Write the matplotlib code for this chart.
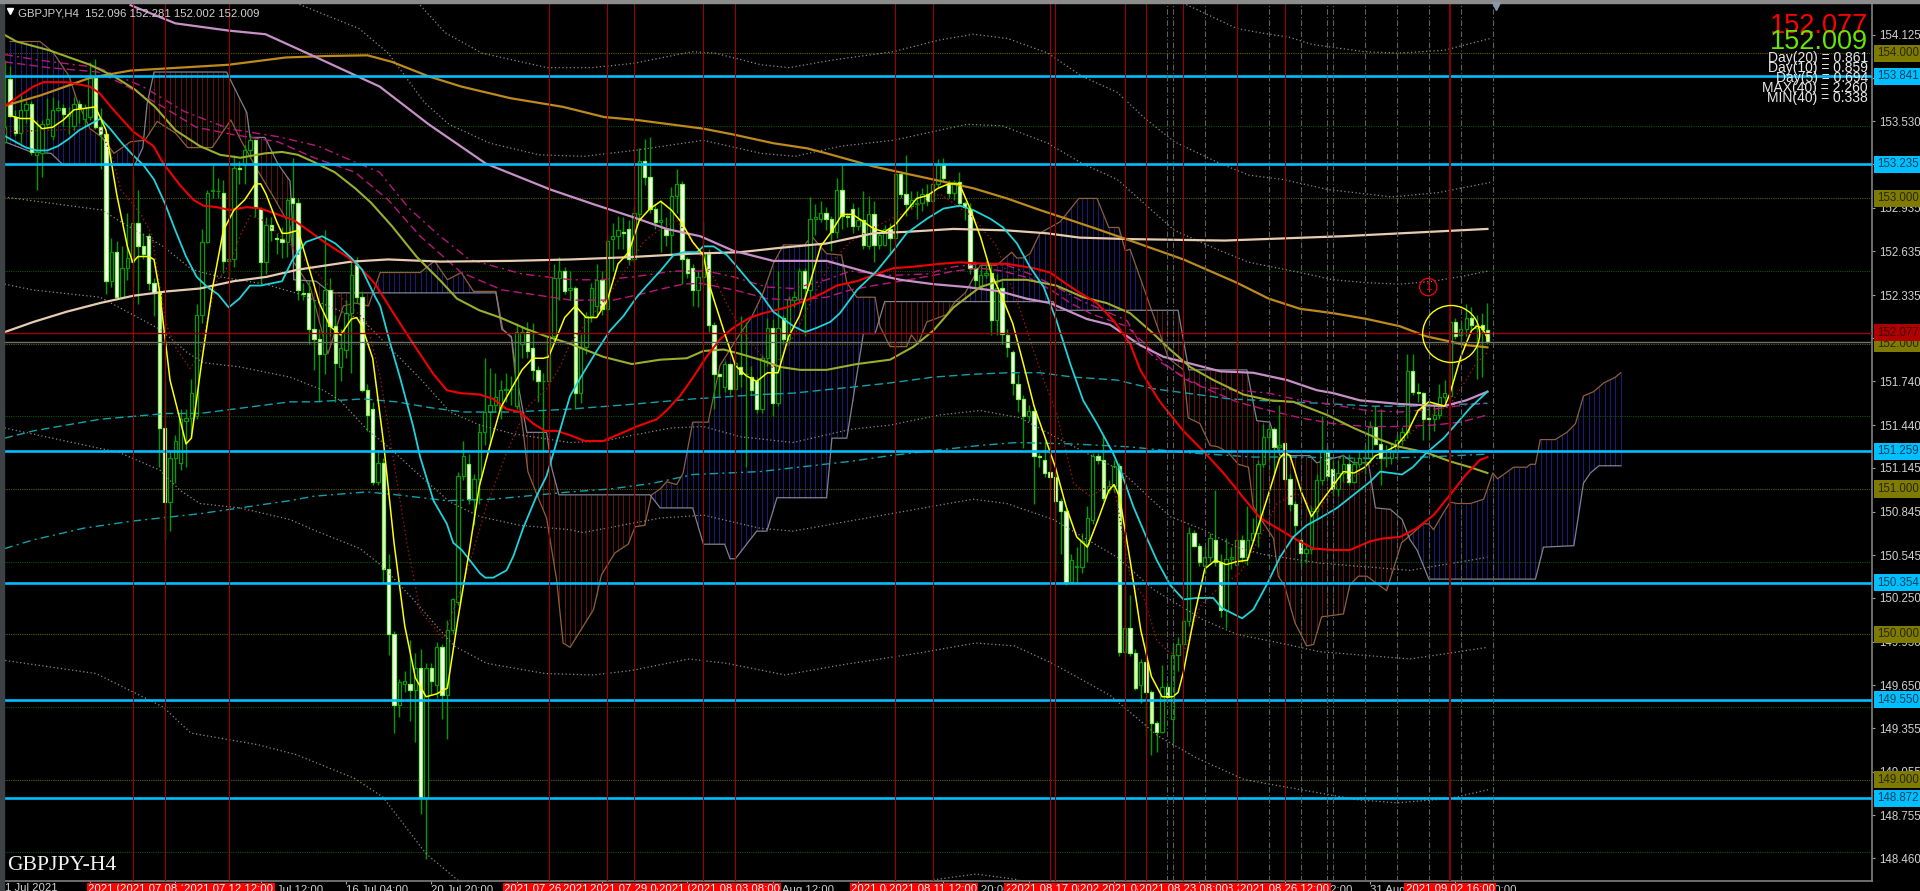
import matplotlib
matplotlib.use('Agg')
import matplotlib.pyplot as plt
from matplotlib.lines import Line2D
from matplotlib.patches import Ellipse, Rectangle
import numpy as np

# GBPJPY H4 candles, bar -1 is cut by the left edge
bar_open = [
    153.39,153.82,153.56,153.45,153.61,153.65,153.30,153.31,153.51,153.43,
    153.61,153.62,153.57,153.50,153.65,153.55,153.56,153.83,153.49,153.44,
    152.43,152.63,152.32,152.52,152.56,152.83,152.67,152.74,152.42,152.35,
    151.42,150.91,151.21,151.18,151.47,151.49,151.50,152.20,152.70,153.05,
    153.05,153.04,152.57,152.58,153.21,153.23,153.33,153.40,152.93,152.56,
    152.82,152.73,152.72,152.70,153.00,152.97,152.35,152.35,152.10,152.03,
    151.93,152.37,152.12,151.84,151.96,152.21,152.55,152.32,151.68,151.55,
    151.05,151.18,150.45,150.00,149.51,149.66,149.66,149.62,149.77,148.87,
    149.77,149.65,149.91,149.58,150.03,150.22,151.09,151.17,150.93,151.07,
    151.39,151.53,151.58,151.56,151.68,151.69,151.57,152.00,152.08,151.97,
    151.82,151.74,151.74,152.05,152.45,152.50,152.37,152.38,151.66,151.98,
    152.19,152.26,152.44,152.24,152.72,152.74,152.77,152.79,152.58,152.89,
    153.26,153.15,152.93,152.84,152.79,152.75,153.02,153.10,152.58,152.52,
    152.37,152.46,152.62,152.13,151.79,151.70,151.86,151.69,151.84,151.79,
    151.77,151.74,151.55,151.90,152.11,151.59,152.18,152.03,152.30,152.31,
    152.50,152.37,152.86,152.86,152.90,152.86,152.77,153.06,152.88,152.93,
    152.81,152.85,152.67,152.89,152.68,152.68,152.79,152.73,153.17,153.03,
    152.95,152.96,152.97,153.03,152.98,153.10,153.23,153.10,153.04,153.11,
    152.97,152.93,152.52,152.39,152.47,152.49,152.16,152.38,152.06,151.94,
    151.72,151.62,151.50,151.54,151.23,151.20,151.12,151.08,150.92,150.85,
    150.36,150.46,150.46,150.62,150.79,151.23,151.20,150.99,151.02,151.16,
    149.88,150.04,149.87,149.65,149.81,149.60,149.39,149.33,149.64,149.42,
    149.86,149.93,150.09,150.70,150.61,150.47,150.53,150.65,150.50,150.17,
    150.52,150.48,150.65,150.53,150.65,150.70,151.17,151.36,151.41,151.29,
    151.32,151.07,150.90,150.65,150.56,150.59,150.85,151.06,151.26,151.14,
    151.00,151.11,151.17,151.05,151.17,151.21,151.21,151.43,151.31,151.21,
    151.21,151.26,151.34,151.39,151.81,151.67,151.66,151.49,151.48,151.51,
    151.63,151.64,152.15,152.06,152.10,152.18,152.11,152.13,152.096]
bar_high = [
    153.95,153.91,153.61,153.72,153.67,153.67,153.54,153.54,153.69,153.70,
    153.68,153.65,153.63,153.70,153.68,153.65,153.94,153.96,153.62,153.46,
    152.73,152.71,152.67,152.90,153.16,153.06,152.76,152.76,152.45,152.36,
    151.74,151.27,151.37,151.55,151.55,151.76,152.27,152.79,153.06,153.23,
    153.14,153.13,153.22,153.30,153.26,153.37,153.44,153.41,152.94,152.87,
    152.87,152.76,152.80,153.00,153.28,153.00,152.42,152.43,152.30,152.10,
    152.78,152.45,152.20,152.10,152.30,152.56,152.60,152.36,151.72,151.60,
    151.27,151.21,150.55,150.02,149.69,149.75,149.96,149.87,149.90,149.80,
    149.80,149.95,149.93,150.10,150.25,151.12,151.33,151.24,151.10,151.45,
    151.90,151.83,151.80,151.75,151.80,151.78,152.14,152.12,152.15,152.14,
    151.85,151.80,152.23,152.55,152.60,152.53,152.50,152.40,152.07,152.22,
    152.42,152.55,152.50,152.75,152.83,152.88,152.87,152.85,152.95,153.35,
    153.41,153.42,152.96,152.99,152.87,153.08,153.20,153.12,152.60,152.55,
    152.50,152.84,152.65,152.15,151.80,151.88,151.87,151.95,152.19,152.15,
    151.85,151.77,151.92,152.18,152.17,152.50,152.20,152.33,152.36,152.52,
    152.52,153.01,152.96,152.98,152.94,152.88,153.14,153.23,152.90,152.97,
    152.94,153.05,153.02,152.98,152.77,152.82,152.83,153.20,153.19,153.30,
    153.05,153.05,153.07,153.10,153.15,153.27,153.28,153.13,153.13,153.18,
    152.98,152.97,152.57,152.55,152.57,152.55,152.48,152.43,152.10,151.96,
    151.79,151.65,151.58,151.56,151.25,151.33,151.23,151.10,150.94,150.87,
    150.55,150.60,150.70,150.88,151.25,151.25,151.38,151.06,151.20,151.18,
    150.33,150.27,149.90,149.83,149.95,149.62,149.40,149.79,149.67,149.93,
    149.98,150.11,150.74,150.72,150.63,150.60,150.70,150.99,150.55,150.66,
    150.60,150.72,150.68,150.88,150.80,151.20,151.45,151.45,151.43,151.58,
    151.43,151.10,150.92,150.67,150.62,150.88,151.10,151.50,151.30,151.20,
    151.20,151.24,151.24,151.22,151.26,151.30,151.47,151.57,151.55,151.30,
    151.32,151.38,151.43,151.93,151.93,151.73,151.67,151.60,151.60,151.72,
    151.75,152.16,152.18,152.15,152.27,152.25,152.20,152.21,152.281]
bar_low = [
    153.38,153.56,153.43,153.38,153.52,153.30,153.06,153.15,153.50,153.40,
    153.60,153.50,153.44,153.47,153.52,153.49,153.54,153.48,153.20,152.34,
    152.39,152.31,152.31,152.44,152.39,152.27,152.58,152.37,152.19,151.15,
    150.65,150.71,151.04,151.13,151.15,151.36,151.48,152.14,152.69,153.00,
    153.00,152.49,152.45,152.53,153.10,153.10,153.28,152.87,152.41,152.48,
    152.71,152.62,152.59,152.60,152.68,152.30,152.30,152.00,151.82,151.60,
    151.79,152.05,151.60,151.74,151.90,151.80,152.28,151.67,151.40,151.03,
    151.03,150.35,149.86,149.32,149.43,149.60,149.40,149.26,148.76,148.45,
    149.58,149.56,149.42,149.28,150.00,150.20,151.06,150.90,150.75,150.90,
    151.30,151.30,151.53,151.48,151.60,151.58,151.55,151.90,151.90,151.75,
    151.60,151.26,151.70,152.00,152.30,152.34,152.30,151.55,151.59,151.93,
    152.15,152.20,152.20,152.16,152.50,152.65,152.65,152.54,152.56,152.85,
    153.09,152.90,152.79,152.63,152.67,152.62,152.90,152.41,152.45,152.26,
    152.25,152.40,152.08,151.55,151.64,151.67,151.65,151.50,151.70,151.15,
    151.65,151.52,151.52,151.85,151.50,151.57,152.00,152.00,152.25,152.28,
    152.05,152.30,152.75,152.84,152.78,152.64,152.73,152.79,152.80,152.76,
    152.78,152.65,152.65,152.56,152.65,152.67,152.62,152.69,153.00,152.88,
    152.93,152.86,152.91,152.95,152.87,153.08,153.12,153.00,152.99,152.95,
    152.85,152.48,152.38,152.37,152.45,152.06,152.06,152.00,151.91,151.65,
    151.53,151.28,151.47,150.90,151.15,151.08,151.00,150.43,150.55,150.34,
    150.35,150.35,150.42,150.50,150.76,151.17,150.92,150.97,150.98,149.85,
    149.85,149.85,149.62,149.53,149.30,149.17,149.19,149.32,149.55,149.25,
    149.75,149.90,150.06,150.60,150.47,150.42,150.50,150.47,150.12,150.04,
    150.45,150.44,150.50,150.48,150.65,150.60,151.15,151.20,151.10,151.25,
    151.02,150.85,150.68,150.46,150.49,150.55,150.80,151.03,151.07,150.95,
    150.95,151.05,151.03,151.04,151.15,151.10,151.18,151.30,151.03,151.15,
    151.17,151.20,151.30,151.35,151.65,151.60,151.34,151.34,151.40,151.48,
    151.60,151.62,152.03,152.00,152.05,152.10,151.76,151.77,152.002]
bar_close = [
    153.49,153.57,153.45,153.61,153.65,153.32,153.32,153.51,153.55,153.61,
    153.62,153.58,153.58,153.65,153.62,153.62,153.83,153.49,153.44,152.43,
    152.63,152.32,152.52,152.59,152.83,152.67,152.62,152.42,152.35,151.42,
    150.91,151.21,151.33,151.48,151.49,151.66,152.20,152.70,153.04,153.06,
    153.05,152.57,152.58,153.21,153.20,153.33,153.40,152.94,152.56,152.82,
    152.78,152.72,152.70,152.99,152.97,152.37,152.34,152.10,152.03,151.93,
    152.37,152.12,151.87,151.97,152.21,152.47,152.32,151.68,151.51,151.05,
    151.18,150.45,150.00,149.51,149.67,149.68,149.62,149.77,148.87,149.77,
    149.68,149.91,149.58,150.03,150.24,151.09,151.23,150.93,151.07,151.39,
    151.53,151.58,151.63,151.68,151.69,151.69,152.08,152.08,151.95,151.82,
    151.74,151.74,152.05,152.45,152.50,152.36,152.38,151.66,151.98,152.19,
    152.38,152.44,152.24,152.71,152.74,152.78,152.76,152.58,152.90,153.26,
    153.15,152.93,152.84,152.85,152.75,153.02,153.10,152.58,152.49,152.37,
    152.46,152.63,152.13,151.79,151.78,151.86,151.69,151.87,151.79,151.79,
    151.68,151.55,151.90,152.11,151.59,152.11,152.03,152.31,152.32,152.50,
    152.38,152.86,152.87,152.90,152.86,152.77,153.06,152.88,152.87,152.81,
    152.85,152.68,152.89,152.68,152.75,152.79,152.73,153.17,153.03,152.96,
    152.99,152.97,153.03,152.98,153.10,153.23,153.14,153.04,153.11,152.97,
    152.94,152.52,152.44,152.47,152.49,152.16,152.38,152.07,151.98,151.73,
    151.62,151.50,151.54,151.23,151.22,151.11,151.08,150.92,150.85,150.36,
    150.51,150.47,150.64,150.80,151.23,151.20,150.94,151.02,151.16,149.88,
    150.04,149.87,149.63,149.81,149.60,149.39,149.33,149.64,149.57,149.86,
    149.93,150.09,150.70,150.61,150.50,150.53,150.66,150.50,150.17,150.52,
    150.53,150.65,150.53,150.65,150.70,151.17,151.36,151.41,151.29,151.30,
    151.07,150.90,150.75,150.56,150.59,150.85,151.06,151.26,151.09,151.00,
    151.11,151.17,151.05,151.17,151.21,151.22,151.43,151.31,151.21,151.22,
    151.26,151.34,151.39,151.81,151.67,151.66,151.48,151.48,151.51,151.63,
    151.66,152.15,152.05,152.10,152.18,152.13,152.13,152.10,152.009]

# moving averages, (bar, price)
yellow_x = [0,2,4,6,8,10,12,14,16,18,20,22,23,24,26,27,28,30,32,33,34,36,38,40,42,44,46,47,48,50,51,52,54,56,
    58,60,62,64,65,66,68,70,72,74,76,78,80,82,84,86,88,90,92,94,96,98,100,101,102,104,
    106,108,110,112,114,116,118,120,122,124,126,128,130,131,132,134,136,138,140,142,144,146,148,150,152,154,156,
    158,160,162,164,166,168,170,172,174,176,178,180,182,184,186,188,190,192,194,196,198,200,202,204,206,207,208,
    210,212,214,216,218,219,220,222,224,226,228,230,232,234,236,238,239,240,242,244,246,248,250,252,254,256,258,260,262,
    264,266,268,269,270,272,274,275,276,277]
yellow_y = [153.57,153.55,153.55,153.48,153.49,153.54,153.61,153.62,153.63,153.47,153.03,152.67,152.56,152.60,152.60,152.58,152.37,151.75,151.46,151.31,151.35,151.89,152.39,152.78,152.92,152.99,153.10,153.10,153.03,152.84,152.76,152.76,152.78,152.53,
    152.28,152.12,152.06,152.17,152.18,152.12,151.90,151.33,150.63,150.06,149.70,149.57,149.59,149.63,150.11,150.55,151.02,151.30,151.56,151.69,151.82,151.90,151.90,151.91,152.00,152.18,
    152.26,152.18,152.18,152.30,152.55,152.63,152.85,152.93,152.98,152.92,152.83,152.70,152.61,152.42,152.30,152.07,151.85,151.78,151.74,151.80,151.80,152.05,152.19,152.42,152.67,152.77,152.89,
    152.89,152.84,152.79,152.77,152.82,152.91,153.00,153.02,153.07,153.10,153.10,152.93,152.73,152.48,152.32,152.14,151.86,151.57,151.36,151.15,150.88,150.67,150.60,150.79,150.99,151.03,150.95,
    150.51,150.03,149.71,149.57,149.57,149.60,149.74,150.12,150.45,150.51,150.48,150.50,150.51,150.74,150.97,151.21,151.25,151.23,150.99,150.81,150.92,151.02,151.12,151.11,151.15,151.23,151.26,151.30,151.39,
    151.54,151.60,151.58,151.57,151.66,151.91,152.09,152.12,152.11,152.04]

cyan_x = [-1,1,3,5,7,9,11,13,15,17,19,21,23,25,27,29,31,33,35,37,39,41,43,45,47,51,53,55.5,58.5,61,64,66,68.5,
    69.4,71.3,73.1,75.6,76.9,79.4,81.9,83.1,84.7,86.2,88.1,89.1,90.6,93.1,94.4,96.2,98.7,100.6,101.9,103.8,105,
    107.5,110,112.5,115,117.5,119.4,121.9,124.4,126.3,128.8,130,131.9,134.4,136.3,138.8,140.6,143.1,146.9,149.1,151.3,153.8,155.6,
    158.8,162.5,165.6,168.1,171.9,175,178.1,180.6,183.8,186.2,188.8,191.2,193.8,196.2,198.8,201.2,203.8,206.9,208.4,
    210.6,212.8,215,217.5,220,222.5,225.6,227.2,229.4,231,233.1,235.6,238.1,240.6,243.1,245.6,248.8,251.9,255,256.9,261,263,265.6,268.8,271.2,273.8,277]
cyan_y = [153.43,153.39,153.35,153.33,153.33,153.36,153.41,153.47,153.51,153.55,153.47,153.38,153.30,153.23,153.13,152.97,152.78,152.60,152.46,152.39,152.34,152.25,152.31,152.40,152.40,152.43,152.58,152.70,152.74,152.69,152.59,152.51,152.32,
    152.26,152.00,151.77,151.43,151.22,150.92,150.76,150.63,150.58,150.51,150.42,150.39,150.39,150.44,150.54,150.73,150.95,151.09,151.25,151.49,151.64,
    151.80,151.95,152.09,152.19,152.32,152.40,152.50,152.61,152.63,152.63,152.67,152.67,152.61,152.53,152.42,152.35,152.22,152.12,152.08,152.11,152.15,152.21,
    152.37,152.50,152.64,152.76,152.86,152.93,152.95,152.92,152.86,152.80,152.69,152.53,152.39,152.16,151.86,151.61,151.45,151.24,151.11,
    150.88,150.69,150.51,150.34,150.24,150.25,150.25,150.18,150.14,150.11,150.17,150.34,150.53,150.67,150.75,150.80,150.87,150.96,151.05,151.12,151.10,151.15,151.25,151.35,151.45,151.56,151.67]

red_x = [-0.75,1.9,4.4,6.3,10.6,15,16.9,19.4,23.1,26.9,28.75,31.9,34.4,36.25,38.75,41.25,44.4,47,50.2,53.2,56.3,59.3,63.2,65.5,68.5,
    71.9,75.6,79.4,81.9,84.4,88.1,90.6,93.1,95.6,98.1,100.3,102.5,105,107.8,111.2,113.75,117.5,121.25,123.1,125.6,128.1,130.6,133.1,135.6,138.75,141.25,145.6,149.4,152.5,155,158.75,
    162.5,165.6,169.4,174.4,178.1,183.1,186.9,191.9,195,198.1,200.6,203.75,206.9,210,211.9,215.6,220,223.75,227.5,231.25,234.4,238.1,241.25,244.4,248.1,251.25,255,257.5,260.6,263.75,266.9,270,273,275.6,277]
red_y = [153.64,153.71,153.77,153.80,153.80,153.77,153.72,153.61,153.46,153.36,153.24,153.09,152.99,152.95,152.94,152.92,152.94,152.93,152.89,152.85,152.77,152.69,152.60,152.53,152.41,
    152.21,152.00,151.79,151.68,151.66,151.65,151.62,151.55,151.53,151.45,151.40,151.40,151.37,151.33,151.33,151.37,151.43,151.48,151.54,151.64,151.77,151.91,152.03,152.11,152.18,152.21,152.25,152.30,152.35,152.40,152.43,
    152.48,152.52,152.53,152.55,152.56,152.55,152.55,152.52,152.49,152.41,152.35,152.28,152.16,152.00,151.82,151.60,151.40,151.26,151.11,150.94,150.80,150.72,150.65,150.59,150.58,150.58,150.64,150.66,150.67,150.73,150.82,150.96,151.10,151.20,151.22]

olive_x = [-1,1.2,7.3,15,19.5,23.4,27.2,31,35.6,39.4,43.2,47.8,51,54,57,60.9,64.7,67.7,71.6,76.2,80.8,83.8,88,91.9,96.9,100.6,105,
    111.2,116.6,121.9,126.9,130,133.8,136.9,140.6,144.4,148.1,153.1,158.75,165,169.4,173.1,176.9,181.9,186.2,190.6,196.2,201.2,205.6,210,
    213.75,217.5,221.25,225.6,231.25,236.25,240.6,246.9,251.9,256.9,260.6,265.6,270,273.75,277]
olive_y = [154.125,154.08,154.02,153.92,153.84,153.75,153.63,153.47,153.36,153.30,153.28,153.31,153.32,153.30,153.25,153.18,153.07,152.97,152.81,152.60,152.43,152.31,152.23,152.18,152.10,152.05,152.00,
    151.91,151.86,151.89,151.90,151.95,151.96,151.93,151.89,151.84,151.82,151.82,151.86,151.89,151.98,152.09,152.25,152.39,152.44,152.44,152.40,152.32,152.28,152.21,
    152.09,151.96,151.84,151.75,151.65,151.61,151.60,151.51,151.42,151.34,151.29,151.25,151.19,151.15,151.11]

plum_x = [22.6,31,41,47.9,56.3,69.3,78.5,89.2,101.4,109.4,116.9,123.1,129.4,135.6,143.1,153.1,161.9,166.9,173.1,179.4,185.6,190.6,195,201.9,206.25,211.9,216.25,220.6,226.9,233.1,239.4,245,248.1,253.1,260.6,268.75,273,277]
plum_y = [154.33,154.205,154.155,154.13,153.99,153.77,153.51,153.24,153.06,152.96,152.87,152.79,152.74,152.64,152.57,152.57,152.48,152.44,152.41,152.39,152.36,152.31,152.28,152.17,152.13,151.99,151.91,151.87,151.81,151.80,151.75,151.68,151.66,151.61,151.585,151.57,151.61,151.67]

orange_x = [-0.75,5.8,15,22.6,31.8,41,51.7,59.3,67,71.6,78.5,84.6,93.8,103.7,111.4,117.5,130,135.6,143.1,149.4,153.1,161.9,168.1,174.4,180.6,186.9,193.1,198.1,203.75,210,220,230,236,241.9,248.1,254.4,260.6,265.6,269.4,273.1,277]
orange_y = [153.64,153.71,153.83,153.88,153.90,153.92,153.97,153.98,153.985,153.94,153.84,153.77,153.69,153.63,153.56,153.54,153.48,153.44,153.38,153.345,153.31,153.22,153.17,153.12,153.07,153.00,152.92,152.86,152.79,152.71,152.58,152.42,152.31,152.24,152.21,152.17,152.12,152.05,152.02,151.99,151.975]

bisque_x = [-1,4.4,10.6,16.9,23.1,29.4,35.6,41.9,48.1,54,64,70.9,80.8,93.8,105.2,115.6,128.1,136.9,144.4,153.1,161.9,168.1,176.9,186.9,194.4,200.6,210,227.7,250,277]
bisque_y = [152.08,152.15,152.22,152.28,152.33,152.36,152.38,152.43,152.46,152.51,152.565,152.58,152.565,152.57,152.58,152.595,152.62,152.63,152.66,152.69,152.76,152.77,152.79,152.78,152.76,152.73,152.72,152.71,152.74,152.79]

# two magenta lines, one dash-dot and one dashed
magenta1_x = [-1,5.8,16.5,24.9,32.6,41,50.2,57.8,64.7,69.3,74.6,80,86.1,96,105.2,110.6,116.9,124.4,130.7,135.6,141.9,146.9,153.1,157.5,165,171.9,176.9,181.9,186.9,191.25,196.25,200.6,205,209.4,211.9,215,218.75,223.75,230,236,241.9,248.1,254.4,260.6,266.9,273.1,277]
magenta1_y = [153.99,153.95,153.90,153.77,153.60,153.48,153.425,153.36,153.25,153.18,152.94,152.76,152.58,152.48,152.44,152.44,152.46,152.50,152.50,152.46,152.39,152.38,152.44,152.50,152.47,152.48,152.53,152.55,152.54,152.48,152.39,152.30,152.23,152.16,152.00,151.89,151.80,151.70,151.68,151.66,151.61,151.58,151.54,151.53,151.55,151.58,151.59]
magenta2_x = [-1,7.3,16.5,21,28.7,34.9,41.7,50.2,57,64.7,70.9,76.9,84.6,92.3,105.2,113.1,118.1,121.9,126.25,129.4,133.1,136.9,141.9,146.9,153.1,157.5,161.9,166.9,173.1,176.9,181.9,186.2,191.25,195.6,198.75,203.1,209.4,216.9,220.6,225.6,230,235,241.9,248.1,254.4,260.6,266.9,272,277]
magenta2_y = [153.94,153.90,153.87,153.79,153.63,153.49,153.44,153.39,153.28,153.18,152.99,152.74,152.49,152.37,152.30,152.30,152.34,152.375,152.41,152.416,152.39,152.36,152.31,152.30,152.32,152.37,152.40,152.43,152.47,152.50,152.52,152.50,152.45,152.36,152.28,152.20,152.12,151.85,151.75,151.67,151.60,151.55,151.49,151.45,151.43,151.43,151.44,151.46,151.51]

teal1_x = [-1,4.4,10.6,16.9,23.1,29.4,35.6,41.9,52.5,56.9,66.25,72.5,78.75,85,94.4,105,115.6,128.1,140.6,146.9,157.5,165,173.1,180.6,186.9,193.1,199.4,207.5,214.4,220.6,228.75,239.4,245.6,255.6,262.5,277]
teal1_y = [151.35,151.40,151.44,151.48,151.50,151.52,151.52,151.55,151.60,151.60,151.62,151.60,151.56,151.53,151.53,151.55,151.58,151.62,151.65,151.66,151.70,151.73,151.77,151.79,151.80,151.80,151.77,151.75,151.69,151.66,151.62,151.60,151.59,151.57,151.57,151.59]
teal2_x = [-1,4.4,13.75,23.1,35.6,52.5,56.9,66.9,72.5,81.9,90.6,105,112.5,120.6,128.1,140.6,157.5,165,174.4,181.9,188.75,199.4,210,220.6,233,241.9,254.4,265.6,277]
teal2_y = [150.59,150.65,150.73,150.78,150.83,150.92,150.95,150.98,150.96,150.92,150.93,150.98,151.00,151.04,151.10,151.12,151.19,151.23,151.27,151.30,151.32,151.31,151.29,151.25,151.22,151.22,151.21,151.22,151.24]

# dark red dotted line
dotred_x = [-0.75,16.9,19.4,20.75,24.4,26.6,28.1,29.4,31.25,33.75,35.6,37.2,38.75,41.25,43.1,45,47.5,52,60,66.9,69.4,71.9,74.4,76.9,81.25,85.6,89.4,93.1,96.9,100.6,103.1,105,112.5,116.25,118.75,121.25,125,128.1,131.9,135,138.1,140.6,143.1,146.9,150.6,153.75,157.5,161.9,168.1,174.4,180.6,185,189.4,193.1,196.25,199.4,202.5,206.9,210,212.5,215,217.5,220,223.1,226.9,230.6,234.4,237.5,241.25,245,248.75,253.1,258.1,260.6,263,266.9,270,273,275,277]
dotred_y = [153.46,153.48,153.26,153.06,152.90,152.75,152.39,152.12,151.96,151.83,151.93,152.19,152.43,152.55,152.74,152.88,152.85,152.70,152.39,152.15,151.77,151.20,150.63,150.16,149.97,150.42,150.89,151.25,151.56,151.69,151.84,152.00,152.35,152.55,152.70,152.77,152.85,152.69,152.46,152.23,152.05,151.93,151.83,152.05,152.32,152.55,152.70,152.80,152.91,153.03,152.87,152.67,152.23,151.82,151.52,151.04,150.95,151.04,150.40,150.26,149.96,149.87,149.87,150.19,150.33,150.42,150.67,150.90,150.97,150.84,151.02,151.11,151.21,151.29,151.40,151.52,151.58,151.75,151.87,151.94]

# dotted grey bands
band0_x = [219.9,230,234.4,239.8,244.1,253.8,260.3,268.9,277.5]
band0_y = [154.345,154.17,154.14,154.11,154.06,154.01,154.00,154.02,154.10]
band1_x = [76.9,81.6,88.5,100.7,109.1,117,127.9,132.2,140.8,146.1,153.8,165.6,174.2,180.6,187.1,194.6,201,207.6,212.8,218.3,226.9,232.3,238.7,247.3,259.1,267.8,277.5]
band1_y = [154.33,154.14,154.00,153.90,153.90,153.93,154.01,154.00,153.92,153.90,153.95,154.01,154.09,154.13,154.10,154.00,153.84,153.73,153.55,153.39,153.24,153.16,153.13,153.06,153.01,153.04,153.11]
band2_x = [53.6,65.4,70.9,77.7,82.3,90,99.2,107.6,117,130,140.8,147.2,155.8,165.6,173.1,179.4,186,194.6,201,207.6,211.9,218.3,226.9,232.3,241.9,248.1,254.4,260.6,266.8,273.2,277]
band2_y = [154.345,154.17,154.00,153.66,153.51,153.38,153.30,153.29,153.33,153.40,153.31,153.29,153.36,153.40,153.46,153.51,153.50,153.38,153.24,153.13,152.99,152.78,152.64,152.56,152.49,152.44,152.42,152.41,152.43,152.47,152.50]
band3_x = [-1.1,17.25,20.25,28.7,34.1,39.4,47.8,54.4,66.2,71.8,76.9,82.5,88.1,94.3,105,111.2,123.8,130,136.9,146.8,157.5,165,174.4,181.9,189.4,196.9,208.1,217.5,223.7,230,234.9,245.6,262.5,277]
band3_y = [153.01,152.92,152.85,152.67,152.51,152.46,152.41,152.34,152.16,151.95,151.76,151.53,151.44,151.38,151.32,151.33,151.42,151.43,151.36,151.32,151.41,151.44,151.51,151.54,151.49,151.34,151.13,150.81,150.72,150.60,150.55,150.49,150.44,150.53]
band4_x = [-1,4.3,16.9,23,28.1,33.2,36.2,43.1,52.5,58.7,61.9,66.9,71.25,76.9,82.5,88.1,95.6,105,107.4,121.9,130,140.6,146.8,157.5,174.4,180.6,186.9,195.6,207.6,214.3,223.7,230,239.4,245.6,262.5,277]
band4_y = [152.41,152.37,152.32,152.20,152.10,151.94,151.87,151.84,151.77,151.68,151.61,151.41,151.28,151.09,150.91,150.81,150.75,150.72,150.70,150.80,150.82,150.73,150.71,150.78,150.89,150.93,150.90,150.79,150.53,150.31,150.10,150.00,149.93,149.88,149.83,149.91]
band5_x = [-1,20.6,28.1,31.9,35.6,43.1,52.5,56.8,65.6,69.75,75.6,83.25,89.4,100.3,109.3,116.4,127.3,134.4,145.3,156,170.25,181.1,188.3,195.4,206.25,215.25,222.4,231.4,242.1,252.9,260.1,270,277.1]
band5_y = [151.42,151.25,151.13,150.99,150.90,150.87,150.79,150.72,150.59,150.47,150.24,149.92,149.80,149.73,149.72,149.75,149.83,149.80,149.72,149.79,149.87,149.94,149.92,149.80,149.58,149.30,149.15,149.00,148.93,148.86,148.84,148.87,148.93]
band6_x = [-0.9,16.1,23.25,28.7,33.9,46.5,53.8,64.5,69.9,78,84.2]
band6_y = [149.82,149.73,149.60,149.50,149.32,149.24,149.17,149.01,148.88,148.49,148.30]
band7_x = [173.1,181.1,189.2]
band7_y = [148.31,148.35,148.31]

# ichimoku spans
span_a_x = [0,2,5.6,8,11.1,12.7,15,17.25,19.5,22.6,25.3,27.6,31,33.3,37.9,41.4,43.3,46.3,49.4,52.5,53.2,56.3,59.6,62.5,64.7,67.2,69.4,76.9,79.6,82,84.6,86.9,91.1,92.4,94,94.7,96.2,97.1,98.8,100.6,102.5,103.7,105,
    109.4,110.9,113.4,115.9,117.2,119,120.3,121.9,123.1,125,126.2,128,130.9,133.1,136.9,139,141.2,143.1,145,149,150.3,153.1,155.9,156.9,158.75,162.2,163.1,165,168.1,169,170.25,171.9,175.6,177.2,179.1,181.9,185,187.8,188.75,190,191.25,193.1,194,196.9,200.4,203.8,206,207.9,209.1,210,
    217.2,220,220.9,223.1,225,226.5,228.4,230.3,232.2,233.1,234.4,236.9,237.8,239,240.9,243.1,244.4,245.9,250,251.2,252.8,254.4,258.1,260.9,262.5,265,266,266.9,268.8,270,271.3,273.8,276.3,278,278.9,281.9,284.4,285,286,286.9,289.7,291.9,293.5,295,296.9,298.8,301,302]
span_a_y = [154.08,154.08,154.08,154.01,153.84,153.66,153.48,153.42,153.31,153.39,153.40,153.53,153.45,153.35,153.35,153.54,153.40,153.20,153.01,152.81,152.56,152.39,151.93,152.26,152.28,152.26,152.49,152.49,152.57,152.44,152.49,152.36,152.36,152.10,152.04,151.79,151.40,151.12,150.96,150.80,150.37,149.94,149.91,
    150.17,150.41,150.56,150.62,150.74,150.75,150.96,151.00,151.05,151.03,151.11,151.46,151.46,151.85,152.07,152.18,152.35,152.55,152.68,152.68,152.74,152.62,152.61,152.42,152.32,152.32,152.12,151.98,151.98,152.06,152.00,152.15,152.20,152.29,152.35,152.54,152.54,152.63,152.59,152.59,152.62,152.76,152.78,152.84,153.00,153.00,152.80,152.80,152.64,152.65,
    151.90,151.82,151.49,151.45,151.30,151.29,151.25,151.17,151.15,150.88,150.80,150.66,150.40,150.33,150.08,149.92,149.93,150.12,150.14,150.34,150.40,150.40,150.30,150.63,150.68,150.76,150.76,150.72,150.84,150.91,150.90,150.90,150.93,151.11,151.07,151.15,151.15,151.17,151.17,151.34,151.34,151.39,151.45,151.64,151.67,151.73,151.77,151.80]
span_b_x = [-1,3.9,7.7,10,23.4,24.9,25.7,27,40.6,42.9,44.4,45,47.8,50.2,52.5,52.9,53.2,57.4,60.1,91.1,92.2,94,95,96.9,100.6,101.6,102.9,120,121.9,128,130,134,135,136,140,141.9,143.8,153.1,154.1,156.9,160,162.2,164,195.6,196.2,219,221,231.9,233.75,236.2,238.1,243.7,245,250,251.9,254.7,256,258.8,261,262.5,263.8,266,286,287.5,293.2,295,296.3,297.9,302]
span_b_y = [153.39,153.32,153.31,153.23,153.23,153.35,153.65,153.87,153.87,153.70,153.59,153.42,153.42,153.24,153.12,152.87,152.44,152.43,152.35,152.35,152.10,152.05,151.77,151.39,151.39,151.14,150.96,150.96,150.87,150.87,150.62,150.62,150.52,150.52,150.71,150.71,150.94,150.94,151.35,151.35,152.07,152.07,152.29,152.29,152.23,152.23,151.82,151.82,151.47,151.46,151.23,151.23,151.18,151.23,151.18,151.18,150.87,150.86,150.79,150.65,150.58,150.38,150.38,150.60,150.61,151.04,151.11,151.16,151.16]

# horizontal levels
cyan_levels = [153.841, 153.235, 151.259, 150.354, 149.550, 148.872]
olive_levels = [154.0, 153.0, 152.0, 151.0, 150.0, 149.0]
green_levels = [153.5, 152.5, 151.5, 150.5, 149.5, 148.5]
ask_level = 152.077
bid_level = 152.009

# vertical markers on bar numbers
red_bars = [23,29,41,101,112,117,130,136,166,173,195,196,209,213,220,230,239,270]
grey_bars = [217,218,224,236,242,247,248,254,260,266,272,278]
red_bar_order = [23,29,41,101,112,117,130,136,166,173,195,196,209,213,230,220,239,270]
red_stamps = {23:'2021.07.07 12:00',29:'2021.07.08 12:00',41:'2021.07.12 12:00',101:'2021.07.26 12:00',
    112:'2021.07.28 08:00',117:'2021.07.29 04:00',130:'2021.08.02 04:00',136:'2021.08.03 08:00',
    166:'2021.08.09 12:00',173:'2021.08.11 12:00',195:'2021.08.17 04:00',196:'2021.08.17 08:00',
    209:'2021.08.20 00:00',213:'2021.08.20 16:00',220:'2021.08.23 08:00',230:'2021.08.25 00:00',
    239:'2021.08.26 12:00',270:'2021.09.02 16:00'}

time_bars = [15,31,47,63,79,95,111,127,143,159,175,191,207,223,239,255,271]
time_labels = ['6 Jul 04:00','8 Jul 20:00','13 Jul 12:00','16 Jul 04:00','20 Jul 20:00','23 Jul 12:00','28 Jul 04:00',
    '30 Jul 20:00','4 Aug 12:00','9 Aug 04:00','11 Aug 20:00','16 Aug 12:00','19 Aug 04:00','23 Aug 20:00',
    '26 Aug 12:00','31 Aug 04:00','2 Sep 20:00']

price_ticks = [154.125,153.830,153.530,153.235,152.935,152.635,152.335,152.040,151.740,151.440,151.145,150.845,150.545,150.250,149.950,149.650,149.355,149.055,148.755,148.460]

stats = ['Day(20) = 0.861','Day(10) = 0.859','Day(5) = 0.694','MAX(40) = 2.260','MIN(40) = 0.338']

narrow = ['Liberation Sans Narrow','Liberation Sans']
plt.rcParams['font.family'] = ['Liberation Sans']

fig = plt.figure(figsize=(19.2,8.91), dpi=100, facecolor='black')
ax = fig.add_axes([4/1920, 10/891, 1868/1920, 878/891], facecolor='black')
ax.set_xlim(-1.125, 349.1)
ax.set_ylim(148.302, 154.345)

for s in ax.spines.values():
    s.set_color('#808080')
    s.set_linewidth(1.2)
fig.add_artist(Rectangle((0,0), 4/1920, 1, transform=fig.transFigure, color='#3c4246'))
fig.add_artist(Rectangle((0,1-3/891), 1, 3/891, transform=fig.transFigure, color='#8c8c8c'))

bars = np.arange(-1, 278)
o = np.array(bar_open)
h = np.array(bar_high)
l = np.array(bar_low)
c = np.array(bar_close)

# cloud hatch, one stroke per bar between the spans
cloud_bars = np.arange(0, 303)
a_line = np.interp(cloud_bars, span_a_x, span_a_y)
b_line = np.interp(cloud_bars, span_b_x, span_b_y)
ax.vlines(cloud_bars[a_line>=b_line], a_line[a_line>=b_line], b_line[a_line>=b_line], color='#1b1b72', lw=0.8, zorder=1)
ax.vlines(cloud_bars[a_line<b_line], a_line[a_line<b_line], b_line[a_line<b_line], color='#571414', lw=0.8, zorder=1)
ax.plot(span_a_x, span_a_y, color='#8f5f3c', lw=0.9, zorder=1.5)
ax.plot(span_b_x, span_b_y, color='#80808f', lw=0.9, zorder=1.5)

# levels under the candles
for v in olive_levels:
    ax.axhline(v, color='#5c5c00', lw=0.8, ls=(0,(1,1)), zorder=1.2)
for v in green_levels:
    ax.axhline(v, color='#0c520c', lw=0.8, ls=(0,(1,1)), zorder=1.2)

# candles
ax.vlines(bars, l, h, color='#049a04', lw=1.0, zorder=2)
up = c >= o
ax.bar(bars[up], (c-o)[up], bottom=o[up], width=0.6, facecolor='black', edgecolor='#049a04', lw=0.9, zorder=2.2)
ax.bar(bars[~up], (c-o)[~up], bottom=o[~up], width=0.6, facecolor='white', edgecolor='#7cfc3c', lw=0.9, zorder=2.2)

# bands
for bx, by in [(band0_x,band0_y),(band1_x,band1_y),(band2_x,band2_y),(band3_x,band3_y),(band4_x,band4_y),(band5_x,band5_y),(band6_x,band6_y),(band7_x,band7_y)]:
    ax.plot(bx, by, color='#8a8a8a', lw=0.9, ls=(0,(1,2)), zorder=2.4)

# moving averages
ax.plot(teal1_x, teal1_y, color='#14a0a8', lw=1.0, ls=(0,(6,3)), zorder=2.5)
ax.plot(teal2_x, teal2_y, color='#14a0a8', lw=1.0, ls=(0,(6,3,1.5,3)), zorder=2.5)
ax.plot(magenta1_x, magenta1_y, color='#b8187c', lw=1.0, ls=(0,(6,3,1.5,3)), zorder=2.5)
ax.plot(magenta2_x, magenta2_y, color='#b8187c', lw=1.0, ls=(0,(6,3)), zorder=2.5)
ax.plot(dotred_x, dotred_y, color='#a01414', lw=1.0, ls=(0,(1,2)), zorder=2.5)
ax.plot(bisque_x, bisque_y, color='#e6ccb0', lw=1.6, zorder=2.6)
ax.plot(orange_x, orange_y, color='#bd8a1e', lw=1.6, zorder=2.6)
ax.plot(plum_x, plum_y, color='#c890c8', lw=1.6, zorder=2.6)
ax.plot(olive_x, olive_y, color='#9aae2c', lw=1.5, zorder=2.7)
ax.plot(red_x, red_y, color='#f00000', lw=1.5, zorder=2.8)
ax.plot(cyan_x, cyan_y, color='#1cd4dc', lw=1.3, zorder=2.8)
ax.plot(yellow_x, yellow_y, color='#ffff00', lw=1.1, zorder=2.9)

# objects on top
for v in cyan_levels:
    ax.axhline(v, color='#00bfff', lw=1.9, zorder=3)
ax.axhline(ask_level, color='#a00000', lw=1.0, zorder=3)
ax.axhline(bid_level, color='#707070', lw=1.0, zorder=3)
for b in red_bars:
    ax.axvline(b, color='#a00000' if b != 270 else '#8c0000', lw=0.8 if b != 270 else 1.4, zorder=3.1)
for b in grey_bars:
    ax.axvline(b, color='#5e5e5e', lw=0.8, ls=(0,(5,2,1,2)), zorder=3.1)

ax.add_patch(Ellipse((270.2,152.067), 10.7, 0.392, fill=False, ec='#ffff00', lw=1.0, zorder=3.5))
ax.add_patch(Ellipse((265.9,152.39), 3.26, 0.12, fill=False, ec='#ff0000', lw=0.9, zorder=3.5))
ax.text(265.9, 152.388, '1', color='#ff0000', fontsize=8, ha='center', va='center', zorder=3.5)

# right axis
ax.yaxis.tick_right()
ax.set_yticks(price_ticks)
ax.set_yticklabels(['%.3f' % t for t in price_ticks], color='#d0d0d0', fontsize=8.3, family=narrow)
ax.tick_params(axis='y', length=2, width=0.8, color='#a0a0a0', pad=3)

def price_tag(v, face, ink):
    ax.text(1+5/1868, v, '%.3f' % v, transform=ax.get_yaxis_transform(), color=ink, fontsize=8.3, family=narrow,
        va='center', ha='left', zorder=6, bbox=dict(boxstyle='square,pad=0.22', fc=face, ec='none'))

for v in olive_levels:
    price_tag(v, '#7f7a00', '#28280a')
for v in cyan_levels:
    price_tag(v, '#00bfff', '#04405c')
price_tag(ask_level, '#b00000', '#3c0000')

# bottom axis
ax.set_xticks(time_bars)
ax.set_xticklabels(time_labels, color='#d0d0d0', fontsize=8.2, family=narrow, ha='left')
ax.tick_params(axis='x', length=2, width=0.8, color='#a0a0a0', pad=1)
ax.text(0.0005, -2/878, '1 Jul 2021', transform=ax.transAxes, color='#d0d0d0', fontsize=8.2, family=narrow, va='top', ha='left')
for b in red_bar_order:
    ax.text(b, -3/878, red_stamps[b], transform=ax.get_xaxis_transform(), color='white', fontsize=8.2, family=narrow,
        va='top', ha='center', zorder=7, bbox=dict(boxstyle='square,pad=0.12', fc='#ff0000', ec='none'))

# corner texts
fig.add_artist(Line2D([10/1920],[1-11/891], marker='v', color='white', ms=5, transform=fig.transFigure))
fig.add_artist(Line2D([1496/1920],[1-6/891], marker='v', color='#8a98a8', ms=6, transform=fig.transFigure))
fig.text(18/1920, 1-13.5/891, 'GBPJPY,H4  152.096 152.281 152.002 152.009', color='#d0d0d0', fontsize=8.2, family=narrow, va='center', ha='left')
fig.text(1868/1920, 1-26/891, '152.077', color='#ff0000', fontsize=19.5, va='center', ha='right')
fig.text(1868/1920, 1-42/891, '152.009', color='#66e600', fontsize=19.5, va='center', ha='right')
for n, line in enumerate(stats):
    fig.text(1868/1920, 1-(58+10*n)/891, line, color='#e8e8e8', fontsize=10, va='center', ha='right')
fig.text(7/1920, 1-865/891, 'GBPJPY-H4', color='#f2f2f2', fontsize=15.6, family='Liberation Serif', va='center', ha='left')

fig.savefig('out.png', dpi=100, facecolor='black')
